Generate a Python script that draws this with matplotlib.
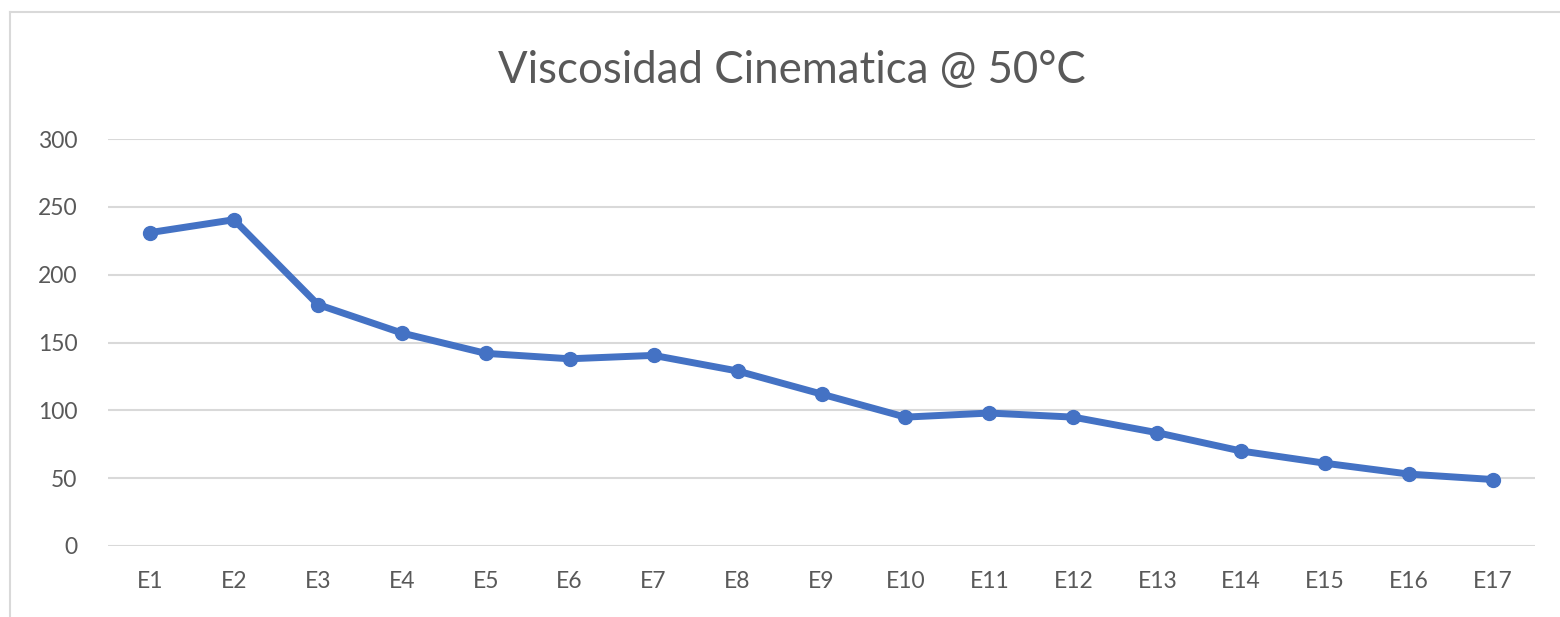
import matplotlib.pyplot as plt
from matplotlib.lines import Line2D

categories = ["E1", "E2", "E3", "E4", "E5", "E6", "E7", "E8", "E9",
              "E10", "E11", "E12", "E13", "E14", "E15", "E16", "E17"]
viscosity = [231, 240.5, 178, 157, 142, 138, 140.5, 129, 112,
             95, 98, 95, 83.5, 70, 61, 53, 49]
y_ticks = [0, 50, 100, 150, 200, 250, 300]

W, H = 1560, 617
fig = plt.figure(figsize=(W / 100, H / 100), dpi=100)
fig.patch.set_facecolor("white")

# chart frame (cropped on right/bottom)
frame = "#D9D9D9"
fig.add_artist(Line2D([10 / W, 1], [1 - 12 / H, 1 - 12 / H], color=frame, lw=1.5))
fig.add_artist(Line2D([10 / W, 10 / W], [0, 1 - 12 / H], color=frame, lw=1.5))

ax = fig.add_axes([108 / W, 1 - 546 / H, (1535 - 108) / W, (546 - 139) / H])
x = list(range(len(categories)))
ax.plot(x, viscosity, color="#4472C4", lw=5, marker="o", ms=10,
        solid_joinstyle="round")

ax.set_xlim(-0.5, len(categories) - 0.5)
ax.set_ylim(0, 300)
ax.set_yticks(y_ticks)
ax.set_xticks(x)
ax.set_xticklabels(categories)
ax.grid(axis="y", color="#D9D9D9", lw=1.5)
ax.set_axisbelow(True)
for s in ax.spines.values():
    s.set_visible(False)
ax.tick_params(length=0, labelsize=16.5, labelcolor="#595959")
ax.tick_params(axis="y", pad=22)
ax.tick_params(axis="x", pad=18)
for lab in ax.get_xticklabels() + ax.get_yticklabels():
    lab.set_family("Lato")

fig.text(792 / W, 1 - 70 / H, "Viscosidad Cinematica @ 50°C", ha="center",
         va="center", fontsize=31.5, color="#595959", family="Lato",
         fontweight="normal")

fig.savefig("out.png", dpi=100)
